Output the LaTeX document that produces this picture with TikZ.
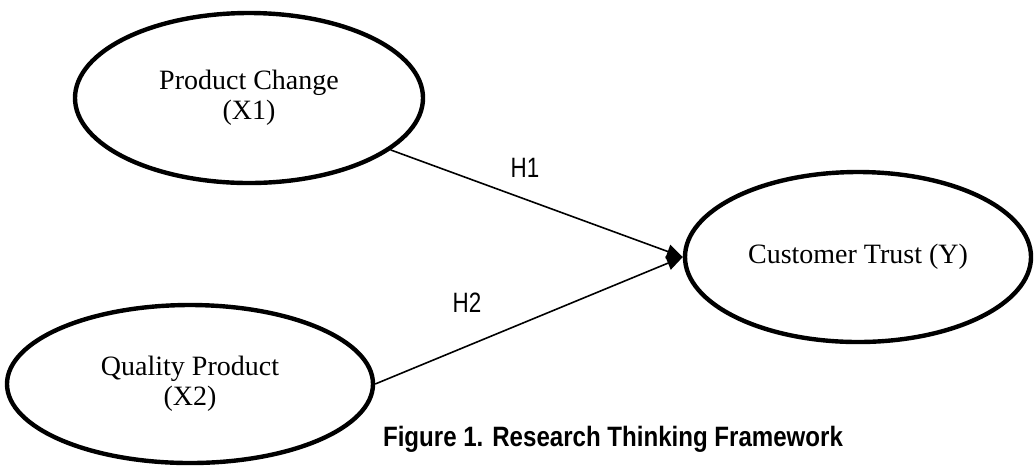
\documentclass[tikz,border=0pt]{standalone}
\usepackage{fontspec}
\usetikzlibrary{shapes.geometric,arrows.meta}
\setmainfont{Liberation Serif}
\newfontfamily\narrowfont[FakeStretch=0.8]{Liberation Sans}
\newfontfamily\capfont[FakeStretch=0.86]{Liberation Sans}
\tikzstyle{construct}=[ellipse, draw, line width=2.2pt, align=center, font=\fontsize{14}{15}\selectfont, inner sep=0pt]
\tikzstyle{path}=[line width=0.8pt, -{Triangle[length=8pt,width=7pt]}]
\tikzstyle{hyp}=[font=\narrowfont\fontsize{14}{16}\selectfont]

\begin{document}
\begin{tikzpicture}[x=0.5pt,y=-0.5pt]
		\useasboundingbox (0,0) rectangle (1036,468);
		\node[construct, minimum width=174pt, minimum height=85pt] (x1) at (249, 98) {Product Change\\(X1)};
		\node[construct, minimum width=183pt, minimum height=79pt] (x2) at (190, 384) {Quality Product\\(X2)};
		\node[construct, minimum width=173pt, minimum height=85pt] (y) at (858, 257) {Customer Trust (Y)};
		\node[hyp] (h1) at (525, 168) {H1};
		\node[hyp] (h2) at (467, 303) {H2};
		\node[font=\capfont\bfseries\fontsize{14}{16}\selectfont] (cap) at (613, 439) {Figure 1. Research Thinking Framework};
		\draw[path] (x1)--(y.west);
		\draw[path] (x2.east)--(y.west);
	\end{tikzpicture}
\end{document}
